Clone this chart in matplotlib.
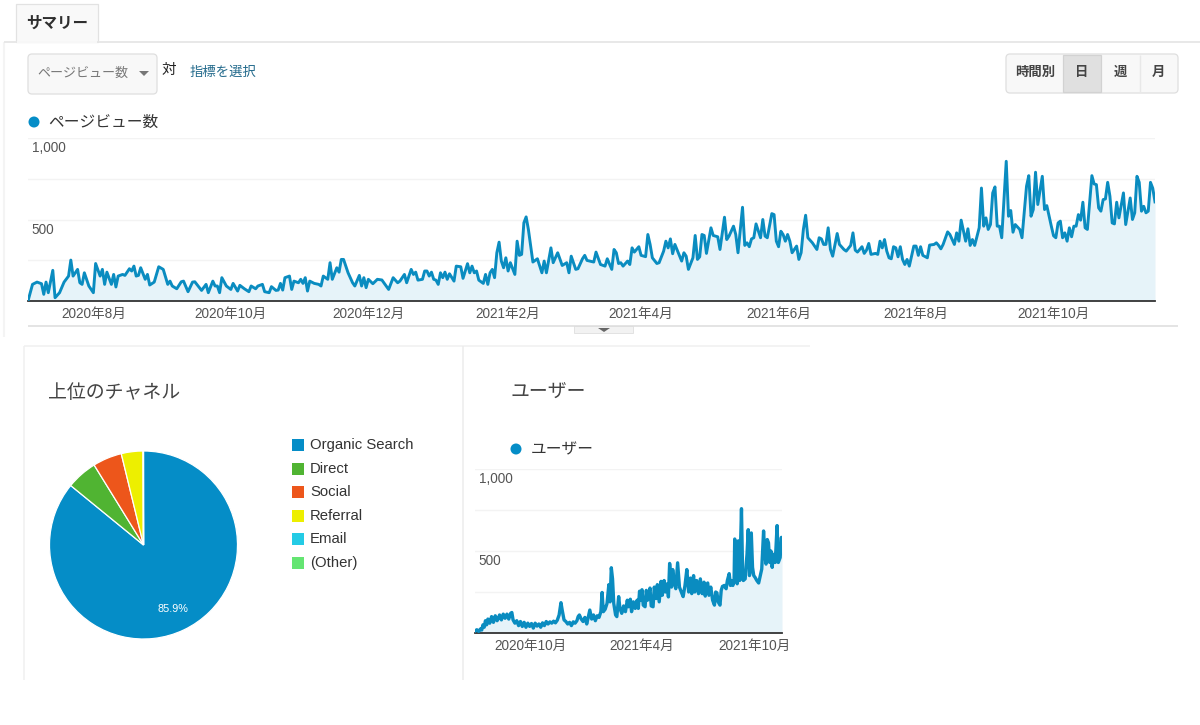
import matplotlib
matplotlib.use("Agg")
import matplotlib.pyplot as plt
from matplotlib.patches import Rectangle, FancyBboxPatch, Polygon, Circle
import pandas as pd

FONT = ['Liberation Sans', 'Noto Sans CJK JP', 'DejaVu Sans']
plt.rcParams['font.family'] = FONT

START = pd.Timestamp('2020-07-03')

pv_days = [0,2,4,6,7,8,9,11,12,14,16,18,19,20,22,23,24,25,27,29,30,32,33,34,35,37,38,39,40,42,43,45,46,47,48,49,50,52,53,54,56,58,60,62,63,64,66,68,69,71,73,74,77,79,80,82,83,84,85,86,88,90,91,93,94,96,98,99,101,102,104,105,107,108,110,111,112,113,114,116,117,118,120,121,122,123,124,125,127,129,130,131,133,134,135,137,138,139,140,142,144,145,147,148,149,150,151,153,155,157,160,162,164,
 165,167,168,170,171,172,173,175,176,177,178,179,180,181,182,183,184,185,186,187,189,190,192,193,195,196,197,198,199,200,202,203,204,205,206,207,208,209,210,211,212,213,214,216,217,218,219,220,221,222,224,226,228,229,230,232,233,235,237,239,240,241,243,244,246,247,248,251,252,254,256,257,259,260,261,262,263,264,266,267,268,269,271,272,274,275,276,277,279,280,282,283,284,285,286,287,290,291,292,293,295,296,297,298,299,300,301,303,304,306,307,309,310,311,313,314,315,317,318,319,320,321,322,323,325,326,327,328,330,331,332,333,334,335,336,337,338,339,341,342,
 343,344,345,346,348,350,351,352,353,354,355,356,357,359,360,362,363,365,366,367,368,370,371,372,373,374,376,377,378,379,380,381,382,383,384,385,386,387,388,389,390,391,393,394,395,396,397,399,400,402,403,404,405,406,408,409,411,412,413,414,416,417,418,419,420,422,423,424,425,426,427,428,429,430,431,432,434,435,436,437,438,440,441,443,444,445,446,447,448,450,451,452,454,455,456,457,458,459,460,461,462,463,464,465,466,467,468,469,470,472,473,474,475,476,477,478,479,480,481,482,483,484,486,487,489,490,491,492,493,494,495,496,497,498,499,500]
pv_values = [0,102,116,106,41,116,51,188,20,51,116,153,251,153,194,112,102,173,92,51,230,153,194,102,177,102,163,86,153,163,157,198,184,214,153,157,204,133,163,98,116,210,194,102,122,92,75,118,122,57,116,118,65,102,51,122,92,92,51,143,92,71,108,61,96,75,57,92,75,92,102,57,51,88,65,67,108,67,143,153,71,122,112,133,108,143,61,122,108,102,92,153,133,235,133,204,177,255,255,173,112,92,157,92,143,82,133,106,133,129,71,143,112,
 122,163,112,194,163,177,128,133,184,184,153,177,133,128,102,173,143,177,133,167,122,214,210,139,229,173,214,173,184,128,108,163,102,173,194,143,296,361,245,204,265,184,235,163,367,280,286,480,516,439,239,259,173,245,173,326,235,296,218,235,173,275,194,198,259,280,249,239,300,224,214,259,194,316,296,230,235,214,245,224,326,300,333,280,272,408,347,265,230,235,306,367,326,381,290,347,245,296,275,194,265,402,255,271,408,402,292,449,402,394,316,514,377,398,459,408,296,575,341,357,333,381,388,473,388,500,398,388,536,530,367,333,428,408,367,408,367,296,337,255,
 296,439,526,388,357,316,388,381,347,347,449,316,275,414,347,316,306,341,418,312,300,333,292,312,353,286,292,286,367,326,377,306,265,259,333,326,271,333,255,224,255,214,337,337,280,333,280,265,343,347,357,341,320,347,424,408,347,418,367,496,367,443,341,377,341,449,693,459,510,439,469,663,700,459,459,388,857,520,555,422,469,439,388,704,769,520,561,790,592,765,561,585,459,400,388,479,490,388,418,367,449,394,459,459,530,496,606,449,439,769,718,714,571,551,622,626,728,643,479,473,606,510,663,469,632,500,541,765,728,551,581,541,551,728,692,608]

user_days = [0,3,6,9,11,13,15,17,19,21,24,27,30,33,36,38,40,43,46,49,52,55,58,60,62,65,68,71,74,77,80,83,86,89,92,95,98,101,104,107,110,113,116,119,122,125,128,131,134,137,140,142,145,148,151,154,157,160,163,166,168,170,173,176,179,182,184,187,190,193,196,199,202,205,207,209,212,215,218,220,222,224,226,229,231,234,236,239,242,245,248,250,253,255,258,261,264,266,268,270,272,274,277,279,281,285,287,290,292,295,297,300,303,305,308,310,313,315,317,320,322,325,327,330,333,336,339,342,345,348,351,353,356,358,361,364,367,370,373,375,377,379,381,384,387,390,392,394,396,399,401,403,406,409,411,414,416,418,420,422,423,425,427,429,431,434,436,437,440,443,445,447,448,450,452,454,456,459,462,464,467,470,472,474,476,478,480,482,484,486,489,492,494,495,497,499,500]
user_values = [12,20,10,25,18,50,35,75,50,85,60,100,65,105,75,90,110,80,115,90,115,85,120,125,80,60,75,45,70,40,65,35,60,40,58,30,60,42,55,35,62,45,70,55,68,60,72,62,78,110,185,140,80,70,55,65,45,68,60,75,100,110,85,70,95,55,90,140,85,110,75,105,95,130,247,130,145,180,295,190,398,330,180,110,100,222,150,120,165,130,200,160,206,130,190,150,200,150,255,200,264,170,160,260,200,274,165,160,280,210,295,190,315,230,320,250,300,220,424,280,387,300,270,428,280,250,222,290,387,250,335,240,350,250,320,240,330,240,310,225,290,305,230,280,200,170,250,245,190,170,260,284,290,270,320,362,290,320,290,330,573,340,300,562,320,758,330,320,330,480,630,350,370,610,400,350,340,320,305,340,390,622,480,420,570,550,430,500,400,480,430,655,430,440,460,583,490]

channels = ['Organic Search', 'Direct', 'Social', 'Referral', 'Email', '(Other)']
channel_share = [85.9, 5.3, 5.0, 3.75, 0.03, 0.02]
channel_colors = ['#058DC7', '#50B432', '#ED561B', '#EDEF00', '#24CBE5', '#64E572']

main_ticks = ['2020-08-01','2020-10-01','2020-12-01','2021-02-01','2021-04-01','2021-06-01','2021-08-01','2021-10-01']
main_labels = ['2020年8月','2020年10月','2020年12月','2021年2月','2021年4月','2021年6月','2021年8月','2021年10月']
user_ticks = ['2020-10-01','2021-04-01','2021-10-01']
user_labels = ['2020年10月','2021年4月','2021年10月']

W, H = 1200, 725
fig = plt.figure(figsize=(W/100, H/100), dpi=100, facecolor='white')

def axes_px(x0, y0, x1, y1, **kw):
    return fig.add_axes([x0/W, 1-y1/H, (x1-x0)/W, (y1-y0)/H], **kw)

ui = axes_px(0, 0, W, H, zorder=0)
ui.set_xlim(0, W); ui.set_ylim(H, 0); ui.axis('off')

def hline(y, x0, x1, c='#e3e3e3', lw=1.0):
    ui.plot([x0, x1], [y, y], color=c, lw=lw, solid_capstyle='butt')
def vline(x, y0, y1, c='#f2f2f2', lw=1.0):
    ui.plot([x, x], [y0, y1], color=c, lw=lw, solid_capstyle='butt')
def button(x0, y0, x1, y1, fc='#f8f8f8'):
    ui.add_patch(FancyBboxPatch((x0+3, y0+3), x1-x0-6, y1-y0-6, boxstyle='round,pad=3,rounding_size=4',
                                fc=fc, ec='#dfdfdf', lw=0.9))

# top chrome
vline(4, 42, 337, '#f4f4f4', 1.5)
hline(42, 4, 1200, '#e6e6e6', 1.3)
ui.add_patch(Rectangle((16, 4), 82, 38, fc='#f9f9f9', ec='#e2e2e2', lw=0.9))
hline(42, 17, 97, '#f9f9f9', 1.3)
ui.text(57, 23, 'サマリー', fontsize=11.2, fontweight='bold', color='#2f2f2f', ha='center', va='center')
button(28, 54, 157, 94)
ui.text(37, 74, 'ページビュー数', fontsize=9.4, color='#777777', va='center')
ui.add_patch(Polygon([(139, 71), (149, 71), (144, 76)], fc='#777777', ec='none'))
ui.text(162, 70, '対', fontsize=10.5, color='#222222', va='center')
ui.text(190, 73, '指標を選択', fontsize=9.6, color='#236a8c', va='center')

button(1006, 54, 1178, 93)
ui.add_patch(Rectangle((1063, 55), 38, 37, fc='#e0e0e0', ec='#d2d2d2', lw=0.9))
vline(1140, 55, 92, '#e8e8e8', 1)
for cx, t in [(1035, '時間別'), (1082, '日'), (1120, '週'), (1158, '月')]:
    ui.text(cx, 73, t, fontsize=9.6, fontweight='bold', color='#444444', ha='center', va='center')

ui.add_patch(Circle((34, 122), 5.5, fc='#058DC7', ec='none'))
ui.text(48, 122.5, 'ページビュー数', fontsize=11.3, color='#333333', va='center')
hline(326, 28, 1178, '#dddddd', 1.1)
ui.add_patch(Rectangle((574, 326), 59, 7, fc='#f2f2f2', ec='#e2e2e2', lw=0.7))
ui.add_patch(Polygon([(598, 328), (610, 328), (604, 332)], fc='#666666', ec='none'))

# bottom panel
hline(346, 24, 810, '#f0f0f0', 1.1)
vline(24, 346, 680, '#f0f0f0', 1.1)
vline(463, 346, 680, '#ececec', 1.1)
ui.text(48, 393.5, '上位のチャネル', fontsize=13.6, color='#444444', va='center')
ui.text(510, 393.5, 'ユーザー', fontsize=13.6, color='#444444', va='center')
ui.add_patch(Circle((516, 449), 5.5, fc='#058DC7', ec='none'))
ui.text(531, 449.5, 'ユーザー', fontsize=11.3, color='#333333', va='center')

def timeline(ax, days, values, ticks, labels, lw):
    dates = START + pd.to_timedelta(days, unit='D')
    ax.patch.set_alpha(0)
    ax.fill_between(dates, values, 0, color='#E6F3F9', lw=0, zorder=1)
    ax.plot(dates, values, color='#0A8CC0', lw=lw, solid_joinstyle='round', zorder=3)
    ax.set_xlim(START, START + pd.Timedelta(days=500))
    ax.set_ylim(0, 1000)
    ax.set_yticks([0, 250, 500, 750, 1000])
    ax.set_yticklabels([])
    ax.grid(axis='y', color='#f3f3f3', lw=1.0, zorder=0)
    ax.set_axisbelow(True)
    ax.set_xticks([pd.Timestamp(t) for t in ticks])
    ax.set_xticklabels(labels, fontsize=9.8, color='#555555')
    ax.tick_params(length=0, pad=4)
    for s in ['left', 'right', 'top']:
        ax.spines[s].set_visible(False)
    ax.spines['bottom'].set_color('#333333')
    ax.spines['bottom'].set_linewidth(1.3)
    for v, t in [(1000, '1,000'), (500, '500')]:
        ax.annotate(t, (0, v), xycoords=('axes fraction', 'data'), xytext=(2.8, -7.5),
                    textcoords='offset points', fontsize=9.8, color='#555555', va='center')

timeline(axes_px(28, 138, 1155, 301, zorder=2), pv_days, pv_values, main_ticks, main_labels, 2.1)
timeline(axes_px(475, 469, 782, 633, zorder=2), user_days, user_values, user_ticks, user_labels, 2.4)

# pie
pie = axes_px(49.5, 451, 237.5, 639, zorder=2)
pie.pie(channel_share, colors=channel_colors, startangle=90, counterclock=False, radius=1,
        wedgeprops=dict(edgecolor='white', linewidth=0.9))
pie.set_xlim(-1, 1); pie.set_ylim(-1, 1)
pie.text(0.315, -0.68, '85.9%', fontsize=7.8, color='white', ha='center', va='center')

for i, (name, col) in enumerate(zip(channels, channel_colors)):
    y = 445 + i * 23.5
    ui.add_patch(Rectangle((292, y-6), 12, 12, fc=col, ec='none'))
    ui.text(310, y, name, fontsize=10.7, color='#333333', va='center')

fig.savefig('out.png', dpi=100, facecolor='white')
